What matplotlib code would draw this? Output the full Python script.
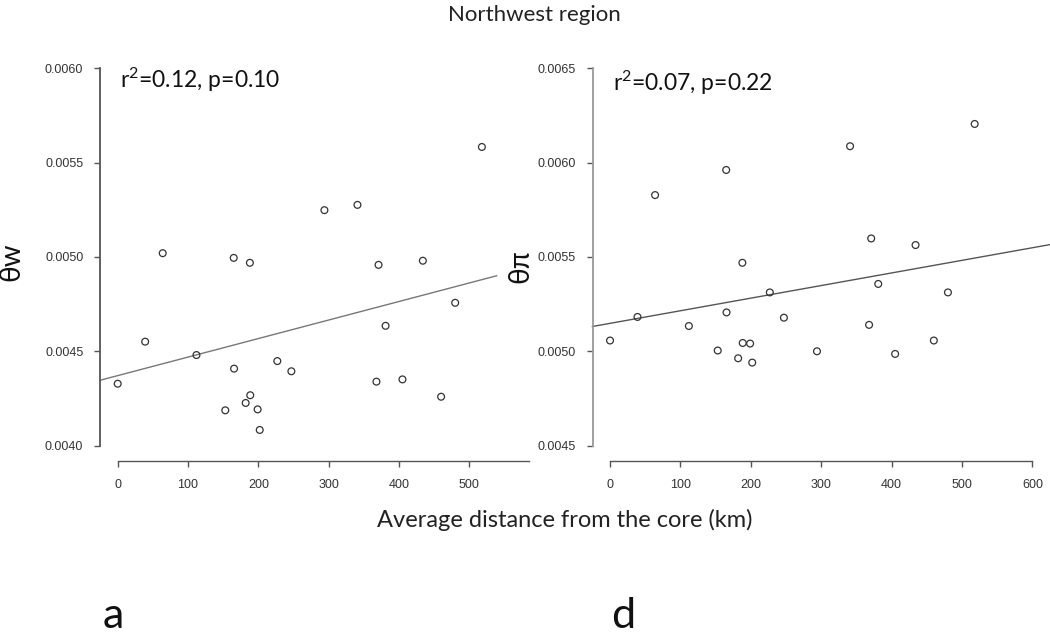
import matplotlib
matplotlib.use("Agg")
import matplotlib.pyplot as plt
import numpy as np

# ---- data ----
distance_km = [0, 39, 64, 112, 153, 165, 165.5, 182, 188, 188.5, 199, 202,
               227, 247, 294, 341, 368, 371, 381, 405, 434, 460, 480, 518]
theta_w = [0.004328, 0.004551, 0.005020, 0.004480, 0.004187, 0.004995, 0.004408,
           0.004226, 0.004969, 0.004267, 0.004192, 0.004083, 0.004448, 0.004394,
           0.005248, 0.005276, 0.004339, 0.004958, 0.004635, 0.004351, 0.004980,
           0.004259, 0.004757, 0.005583]
theta_pi = [0.005057, 0.005182, 0.005828, 0.005134, 0.005004, 0.005961, 0.005206,
            0.004963, 0.005469, 0.005044, 0.005041, 0.004940, 0.005312, 0.005178,
            0.005000, 0.006087, 0.005140, 0.005598, 0.005357, 0.004986, 0.005563,
            0.005057, 0.005312, 0.006205]
fit_w = (0.004371, 9.82e-7)     # intercept, slope
fit_pi = (0.005148, 6.68e-7)
fit_w_range = (-25, 539)
fit_pi_range = (-25, 625)
ann_w = r"r$\mathregular{^2}$=0.12, p=0.10"
ann_pi = r"r$\mathregular{^2}$=0.07, p=0.22"
yticks_w = [0.0040, 0.0045, 0.0050, 0.0055, 0.0060]
yticks_pi = [0.0045, 0.0050, 0.0055, 0.0060, 0.0065]
xticks_w = [0, 100, 200, 300, 400, 500]
xticks_pi = [0, 100, 200, 300, 400, 500, 600]

plt.rcParams["mathtext.fontset"] = "custom"
plt.rcParams["mathtext.rm"] = "Lato"
plt.rcParams["mathtext.it"] = "Lato:italic"
plt.rcParams["mathtext.bf"] = "Lato:bold"

W, H = 1050, 635
fig = plt.figure(figsize=(W / 100, H / 100), dpi=100)
fig.patch.set_facecolor("white")

def fx(px):
    return px / W

def fy(py):
    return 1 - py / H

TEXT_FONT = ["Lato", "Noto Sans", "DejaVu Sans"]
TICK_FONT = ["Liberation Sans", "DejaVu Sans"]

def make_panel(left_px, right_px, xlim, ylim, x, y, fit, fit_range,
               xticks, yticks, xbound, ybound, ycolor, linecolor):
    top_px, bot_px = 53.2, 460.7
    ax = fig.add_axes([fx(left_px), fy(bot_px), fx(right_px - left_px),
                       (bot_px - top_px) / H])
    ax.set_xlim(*xlim)
    ax.set_ylim(*ylim)
    ax.patch.set_alpha(0)
    for s in ["top", "right"]:
        ax.spines[s].set_visible(False)
    ax.spines["left"].set_bounds(*ybound)
    ax.spines["bottom"].set_bounds(*xbound)
    ax.spines["left"].set_color(ycolor)
    ax.spines["left"].set_linewidth(1.3)
    ax.spines["bottom"].set_color("#555555")
    ax.spines["bottom"].set_linewidth(1.0)
    ax.set_xticks(xticks)
    ax.set_yticks(yticks)
    ax.set_xticklabels([str(t) for t in xticks])
    ax.set_yticklabels([f"{t:.4f}" for t in yticks])
    ax.tick_params(axis="x", direction="out", length=4.5, width=1.0,
                   color="#555555", pad=9, labelsize=9, labelcolor="#333333")
    ax.tick_params(axis="y", direction="out", length=4.0, width=1.0,
                   color="#555555", pad=8, labelsize=9, labelcolor="#333333")
    for lab in ax.get_xticklabels() + ax.get_yticklabels():
        lab.set_family(TICK_FONT)
    xs = np.array(fit_range, dtype=float)
    ax.plot(xs, fit[0] + fit[1] * xs, color=linecolor, lw=1.0, clip_on=False)
    ax.scatter(x, y, s=24, facecolors="none", edgecolors="#333333",
               linewidths=0.9, zorder=3, clip_on=False)
    return ax

ax1 = make_panel(100, 529, (-25.2, 585), (0.00392, 0.00608),
                 distance_km, theta_w, fit_w, fit_w_range,
                 xticks_w, yticks_w, (0, 585), (0.0040, 0.0060),
                 "#555555", "#777777")
ax2 = make_panel(592.5, 1050, (-24.9, 625), (0.00442, 0.00658),
                 distance_km, theta_pi, fit_pi, fit_pi_range,
                 xticks_pi, yticks_pi, (0, 600), (0.0045, 0.0065),
                 "#999999", "#555555")

# ---- texts ----
fig.text(fx(534), fy(15), "Northwest region", ha="center", va="center",
         fontsize=16, family=TEXT_FONT, color="#222222")
fig.text(fx(564.5), fy(520), "Average distance from the core (km)",
         ha="center", va="center", fontsize=17, family=TEXT_FONT, color="#222222")
fig.text(fx(120), fy(80), ann_w, ha="left", va="center", fontsize=16.5,
         family=TEXT_FONT, color="#111111")
fig.text(fx(612.7), fy(83), ann_pi, ha="left", va="center", fontsize=16.5,
         family=TEXT_FONT, color="#111111")
fig.text(fx(11), fy(262), "\u03b8w", rotation=90, ha="center", va="center",
         fontsize=20, family=TEXT_FONT, color="#111111")
fig.text(fx(520), fy(266), "\u03b8\u03c0", rotation=90, ha="center", va="center",
         fontsize=20, family=TEXT_FONT, color="#111111")
fig.text(fx(103), fy(628), "a", ha="left", va="baseline", fontsize=31,
         family=TEXT_FONT, color="#111111")
fig.text(fx(611), fy(628), "d", ha="left", va="baseline", fontsize=31,
         family=TEXT_FONT, color="#111111")

fig.savefig("out.png", dpi=100, facecolor="white")
